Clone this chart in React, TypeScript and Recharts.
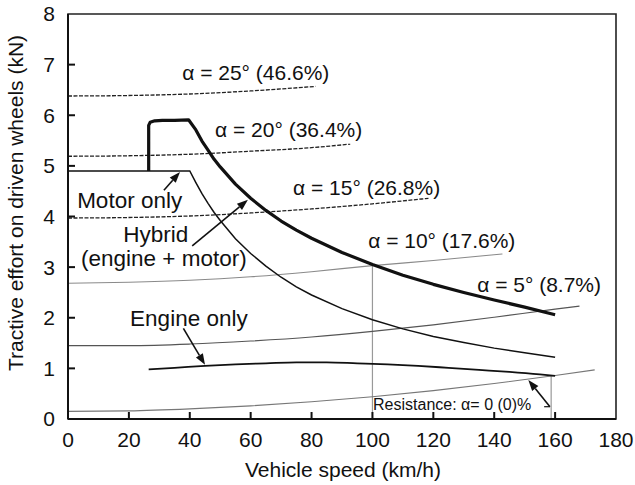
import React from 'react';
import {
  ComposedChart,
  Line,
  XAxis,
  YAxis,
  ReferenceLine,
  ReferenceDot,
  ReferenceArea,
  Customized,
} from 'recharts';

type Pt = { x: number; y: number };

// ---------- Data ----------
const xTicks = [0, 20, 40, 60, 80, 100, 120, 140, 160, 180];
const yTicks = [0, 1, 2, 3, 4, 5, 6, 7, 8];

const motorOnly: Pt[] = [
  { x: 0, y: 4.9 }, { x: 40, y: 4.9 }, { x: 42, y: 4.67 }, { x: 44, y: 4.45 },
  { x: 46, y: 4.26 }, { x: 48, y: 4.08 }, { x: 50, y: 3.92 }, { x: 55, y: 3.56 },
  { x: 60, y: 3.27 }, { x: 65, y: 3.02 }, { x: 70, y: 2.8 }, { x: 75, y: 2.61 },
  { x: 80, y: 2.45 }, { x: 90, y: 2.18 }, { x: 100, y: 1.96 }, { x: 110, y: 1.78 },
  { x: 120, y: 1.63 }, { x: 130, y: 1.51 }, { x: 140, y: 1.4 }, { x: 150, y: 1.31 },
  { x: 160, y: 1.22 },
];

const engineOnly: Pt[] = [
  { x: 26.5, y: 0.98 }, { x: 35, y: 1.01 }, { x: 45, y: 1.05 }, { x: 55, y: 1.08 },
  { x: 65, y: 1.1 }, { x: 75, y: 1.12 }, { x: 85, y: 1.12 }, { x: 95, y: 1.1 },
  { x: 105, y: 1.08 }, { x: 115, y: 1.05 }, { x: 125, y: 1.01 }, { x: 135, y: 0.97 },
  { x: 145, y: 0.93 }, { x: 155, y: 0.88 }, { x: 160, y: 0.85 },
];

const hybrid: Pt[] = [
  { x: 26.5, y: 4.9 }, { x: 26.5, y: 5.8 }, { x: 27, y: 5.86 }, { x: 28.5, y: 5.89 },
  { x: 31, y: 5.9 }, { x: 35, y: 5.9 }, { x: 39.6, y: 5.91 }, { x: 42, y: 5.71 },
  { x: 44, y: 5.49 }, { x: 46, y: 5.31 }, { x: 48, y: 5.13 }, { x: 50, y: 4.98 },
  { x: 55, y: 4.64 }, { x: 60, y: 4.36 }, { x: 65, y: 4.12 }, { x: 70, y: 3.91 },
  { x: 75, y: 3.73 }, { x: 80, y: 3.57 }, { x: 90, y: 3.29 }, { x: 100, y: 3.05 },
  { x: 110, y: 2.84 }, { x: 120, y: 2.66 }, { x: 130, y: 2.5 }, { x: 140, y: 2.35 },
  { x: 150, y: 2.21 }, { x: 160, y: 2.06 },
];

const grade25: Pt[] = [
  { x: 0, y: 6.38 }, { x: 20, y: 6.39 }, { x: 40, y: 6.42 }, { x: 60, y: 6.48 }, { x: 81.3, y: 6.57 },
];
const grade20: Pt[] = [
  { x: 0, y: 5.19 }, { x: 20, y: 5.2 }, { x: 40, y: 5.23 }, { x: 60, y: 5.29 }, { x: 80, y: 5.36 }, { x: 92.7, y: 5.43 },
];
const grade15: Pt[] = [
  { x: 0, y: 3.97 }, { x: 20, y: 3.98 }, { x: 40, y: 4.01 }, { x: 60, y: 4.07 }, { x: 80, y: 4.15 },
  { x: 100, y: 4.25 }, { x: 118.4, y: 4.36 },
];
const grade10: Pt[] = [
  { x: 0, y: 2.68 }, { x: 20, y: 2.7 }, { x: 40, y: 2.74 }, { x: 60, y: 2.81 }, { x: 80, y: 2.91 },
  { x: 100, y: 3.03 }, { x: 120, y: 3.13 }, { x: 142.7, y: 3.26 },
];
const grade5: Pt[] = [
  { x: 0, y: 1.45 }, { x: 20, y: 1.45 }, { x: 40, y: 1.48 }, { x: 60, y: 1.54 }, { x: 80, y: 1.62 },
  { x: 100, y: 1.73 }, { x: 120, y: 1.86 }, { x: 140, y: 2.01 }, { x: 160, y: 2.17 }, { x: 168, y: 2.23 },
];
const grade0: Pt[] = [
  { x: 0, y: 0.15 }, { x: 20, y: 0.16 }, { x: 40, y: 0.2 }, { x: 60, y: 0.26 }, { x: 80, y: 0.34 },
  { x: 100, y: 0.44 }, { x: 120, y: 0.56 }, { x: 140, y: 0.7 }, { x: 160, y: 0.86 }, { x: 173, y: 0.97 },
];

// Annotation texts (anchor points in data units)
const labels = [
  { text: 'α = 25° (46.6%)', x: 37.5, y: 6.7, size: 21, anchor: 'start' },
  { text: 'α = 20° (36.4%)', x: 48.3, y: 5.58, size: 21, anchor: 'start' },
  { text: 'α = 15° (26.8%)', x: 73.9, y: 4.42, size: 21, anchor: 'start' },
  { text: 'α = 10° (17.6%)', x: 98.6, y: 3.38, size: 21, anchor: 'start' },
  { text: 'α = 5° (8.7%)', x: 134.4, y: 2.51, size: 21, anchor: 'start' },
  { text: 'Motor only', x: 3.0, y: 4.16, size: 22.5, anchor: 'start' },
  { text: 'Hybrid', x: 28.8, y: 3.5, size: 22.5, anchor: 'middle' },
  { text: '(engine + motor)', x: 31.5, y: 3.02, size: 22.5, anchor: 'middle' },
  { text: 'Engine only', x: 20.4, y: 1.84, size: 22.5, anchor: 'start' },
  { text: 'Resistance: α= 0 (0)%', x: 100.2, y: 0.18, size: 16, anchor: 'start' },
];

// Arrows: tail -> tip (data units)
const arrows = [
  { from: { x: 31.5, y: 4.52 }, to: { x: 36.8, y: 4.88 } },
  { from: { x: 40.8, y: 3.42 }, to: { x: 59.1, y: 4.33 } },
  { from: { x: 37.9, y: 1.79 }, to: { x: 45.0, y: 1.07 } },
  { from: { x: 158.3, y: 0.243 }, to: { x: 151.2, y: 0.77 } },
];

const dropLines = [
  { x: 100, y: 3.04 },
  { x: 158.7, y: 0.85 },
];

const FONT = '"Liberation Sans", Arial, Helvetica, sans-serif';
const INK = '#111';
const TICK_GAP = 13;
const TICK_LEN = 7;

const arrowShape = (props: any) => {
  const { x1, y1, x2, y2 } = props;
  const dx = x2 - x1;
  const dy = y2 - y1;
  const len = Math.hypot(dx, dy) || 1;
  const ux = dx / len;
  const uy = dy / len;
  const hl = 11;
  const hw = 4;
  const bx = x2 - ux * hl;
  const by = y2 - uy * hl;
  const pts = `${x2},${y2} ${bx - uy * hw},${by + ux * hw} ${bx + uy * hw},${by - ux * hw}`;
  return (
    <g>
      <line x1={x1} y1={y1} x2={bx} y2={by} stroke={INK} strokeWidth={1.6} />
      <polygon points={pts} fill={INK} />
    </g>
  );
};

const XTick = (props: any) => {
  const { x, y, payload } = props;
  const v = payload.value;
  const showLine = v !== xTicks[0] && v !== xTicks[xTicks.length - 1];
  return (
    <g>
      {showLine && (
        <path d={`M${x},${y - TICK_GAP}V${y - TICK_GAP - TICK_LEN}`} stroke={INK} strokeWidth={2} fill="none" />
      )}
      <text x={x} y={y} dy="0.71em" textAnchor="middle" fontSize={21} fontFamily={FONT} fill={INK}>
        {v}
      </text>
    </g>
  );
};

const YTick = (props: any) => {
  const { x, y, payload } = props;
  const v = payload.value;
  const showLine = v !== yTicks[0] && v !== yTicks[yTicks.length - 1];
  return (
    <g>
      {showLine && (
        <path d={`M${x + TICK_GAP},${y}H${x + TICK_GAP + TICK_LEN}`} stroke={INK} strokeWidth={2} fill="none" />
      )}
      <text x={x} y={y} dy="0.355em" textAnchor="end" fontSize={21} fontFamily={FONT} fill={INK}>
        {v}
      </text>
    </g>
  );
};

const textShape = (text: string, size: number, anchor: string) => (props: any) => (
  <text
    x={props.cx}
    y={props.cy}
    fontSize={size}
    textAnchor={anchor as any}
    fontFamily={FONT}
    fill={INK}
  >
    {text}
  </text>
);

const AxisTitles = () => (
  <g fontFamily={FONT} fill={INK}>
    <text x={343} y={477} fontSize={21} textAnchor="middle">
      Vehicle speed (km/h)
    </text>
    <text x={23} y={203} fontSize={21} textAnchor="middle" transform="rotate(-90 23 203)">
      Tractive effort on driven wheels (kN)
    </text>
  </g>
);

export default function App() {
  return (
    <div style={{ position: 'absolute', left: 0, top: 0, background: '#fff' }}>
      <ComposedChart
        width={635}
        height={485}
        margin={{ top: 14, right: 19, bottom: 36, left: 28 }}
        style={{ background: '#fff' }}
      >
        <XAxis
          type="number"
          dataKey="x"
          domain={[0, 180]}
          ticks={xTicks}
          interval={0}
          height={30}
          tickSize={0}
          tickMargin={TICK_GAP}
          axisLine={{ stroke: INK, strokeWidth: 2 }}
          tickLine={false}
          tick={XTick}
          allowDataOverflow
        />
        <YAxis
          type="number"
          dataKey="y"
          domain={[0, 8]}
          ticks={yTicks}
          interval={0}
          width={40}
          tickSize={0}
          tickMargin={TICK_GAP}
          axisLine={{ stroke: INK, strokeWidth: 2 }}
          tickLine={false}
          tick={YTick}
          allowDataOverflow
        />
        <ReferenceArea x1={0} x2={180} y1={0} y2={8} fill="none" fillOpacity={0} stroke="#222" strokeWidth={1.6} />

        {dropLines.map((d, i) => (
          <ReferenceLine
            key={'drop' + i}
            segment={[{ x: d.x, y: 0 }, { x: d.x, y: d.y }]}
            stroke="#999"
            strokeWidth={1.2}
          />
        ))}

        <Line data={grade25} dataKey="y" type="monotone" stroke="#222" strokeWidth={1.3} strokeDasharray="4 1.5" dot={false} isAnimationActive={false} />
        <Line data={grade20} dataKey="y" type="monotone" stroke="#222" strokeWidth={1.3} strokeDasharray="4 1.5" dot={false} isAnimationActive={false} />
        <Line data={grade15} dataKey="y" type="monotone" stroke="#222" strokeWidth={1.3} strokeDasharray="4 1.5" dot={false} isAnimationActive={false} />
        <Line data={grade10} dataKey="y" type="monotone" stroke="#8a8a8a" strokeWidth={1.1} dot={false} isAnimationActive={false} />
        <Line data={grade5} dataKey="y" type="monotone" stroke="#555" strokeWidth={1.1} dot={false} isAnimationActive={false} />
        <Line data={grade0} dataKey="y" type="monotone" stroke="#777" strokeWidth={1.1} dot={false} isAnimationActive={false} />

        <Line data={engineOnly} dataKey="y" type="monotone" stroke={INK} strokeWidth={1.8} dot={false} isAnimationActive={false} />
        <Line data={motorOnly} dataKey="y" type="linear" stroke={INK} strokeWidth={1.5} dot={false} isAnimationActive={false} />
        <Line data={hybrid} dataKey="y" type="linear" stroke={INK} strokeWidth={3.2} strokeLinejoin="round" dot={false} isAnimationActive={false} />

        {arrows.map((a, i) => (
          <ReferenceLine key={'arr' + i} segment={[a.from, a.to]} shape={arrowShape} />
        ))}
        <ReferenceLine
          segment={[{ x: 156.4, y: 0.243 }, { x: 158.3, y: 0.243 }]}
          stroke={INK}
          strokeWidth={1.2}
        />

        {labels.map((l, i) => (
          <ReferenceDot key={'lbl' + i} x={l.x} y={l.y} r={0} shape={textShape(l.text, l.size, l.anchor)} />
        ))}

        <Customized component={AxisTitles} />
      </ComposedChart>
    </div>
  );
}
